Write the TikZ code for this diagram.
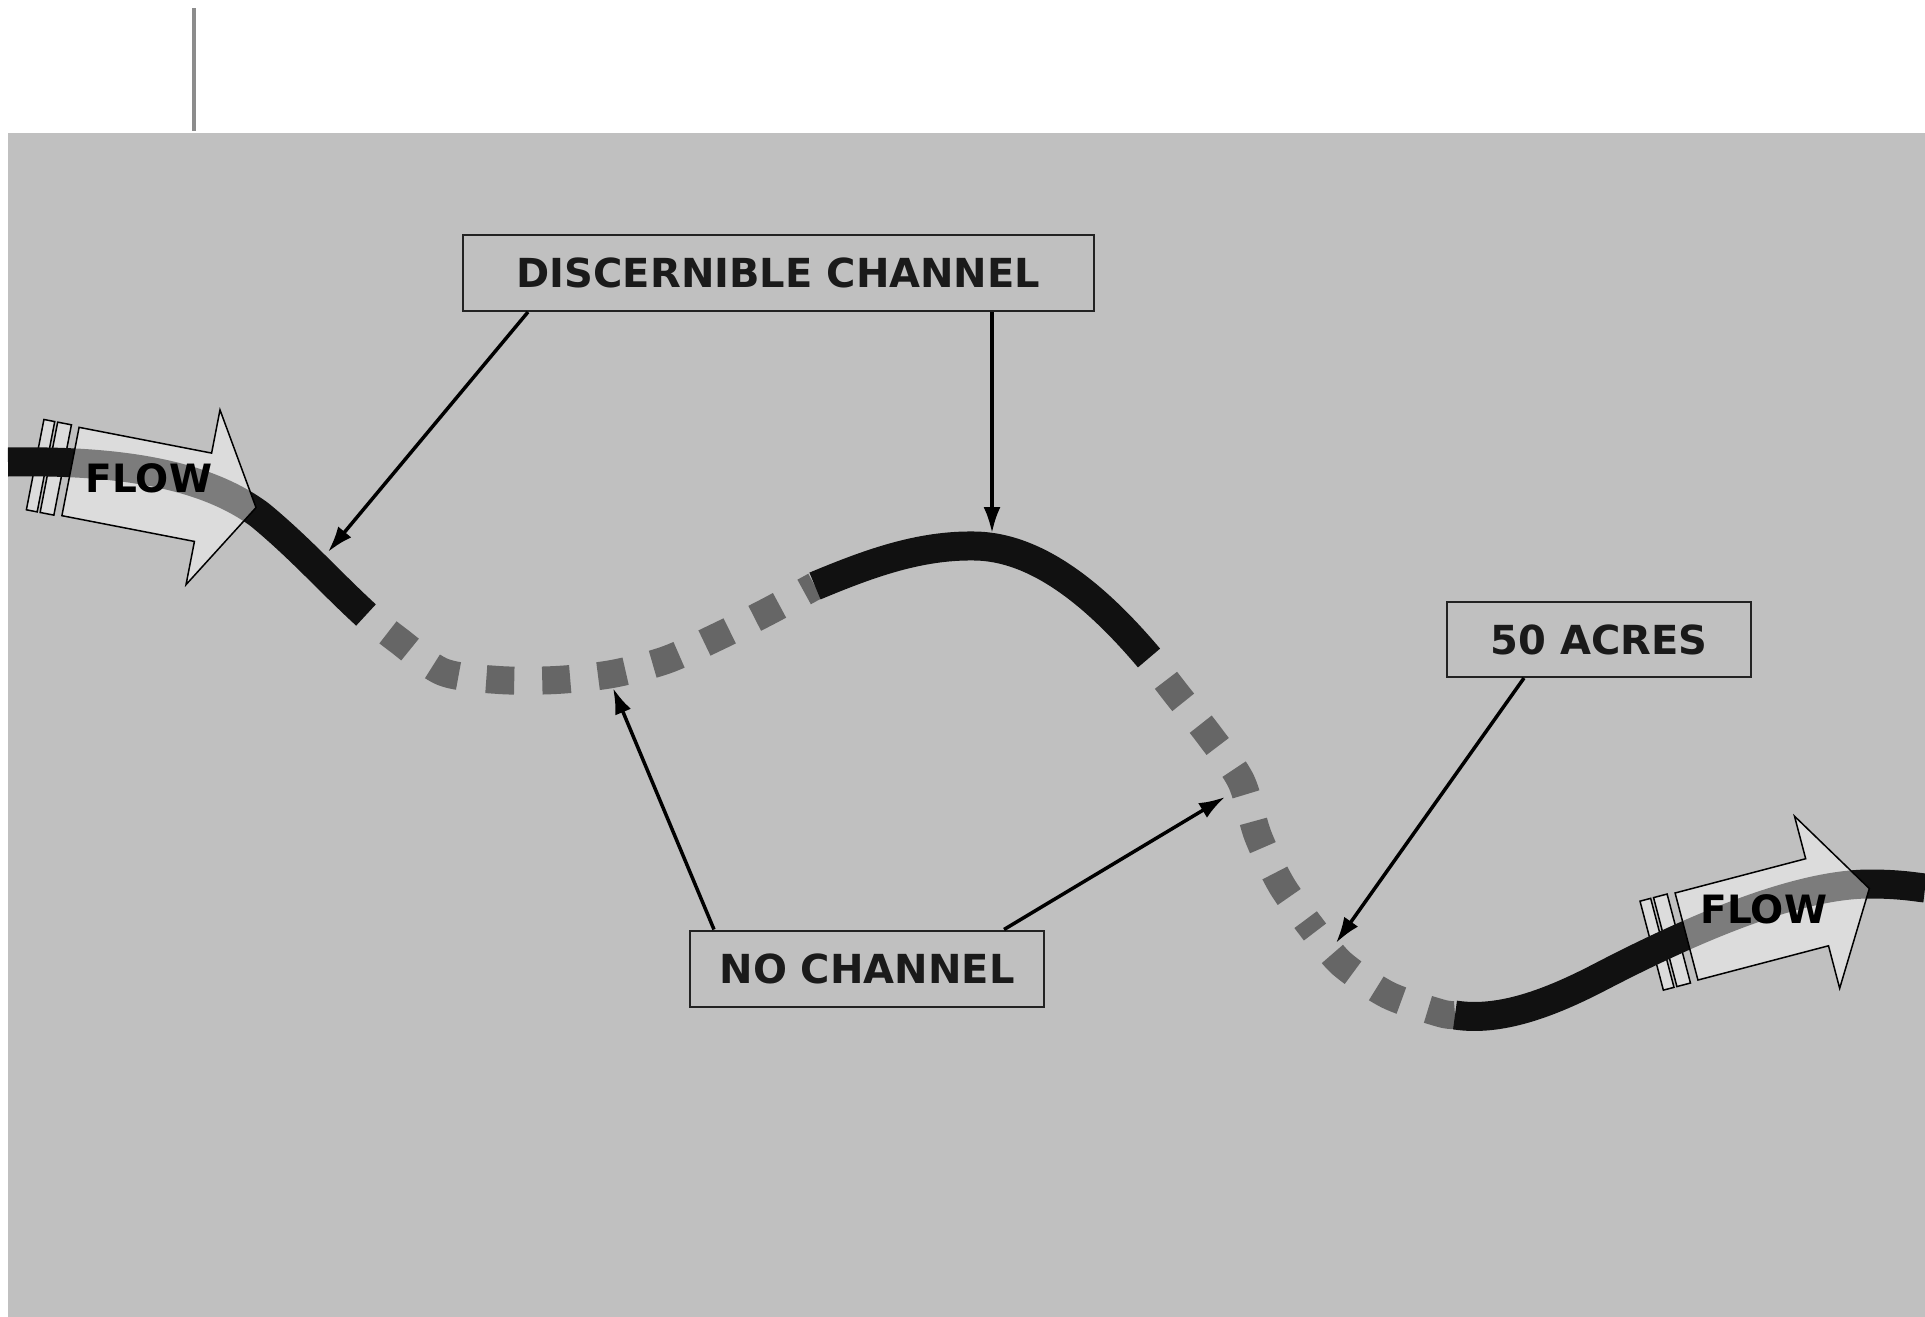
\documentclass[tikz,border=0pt]{standalone}
\usepackage{fontspec}
\setmainfont{DejaVu Sans}
\usetikzlibrary{arrows.meta}
\definecolor{bg}{HTML}{C0C0C0}
\definecolor{chan}{HTML}{111111}
\definecolor{dashgray}{HTML}{666666}
\definecolor{arrowfill}{HTML}{DCDCDC}
\definecolor{boxline}{HTML}{222222}
\definecolor{textc}{HTML}{1A1A1A}
\definecolor{vline}{HTML}{8C8C8C}
\begin{document}
\begin{tikzpicture}[x=1pt,y=-1pt,
  chanline/.style={line width=29pt, draw=chan, line cap=butt},
  gapline/.style={line width=28pt, draw=dashgray, line cap=butt, dash pattern=on 28pt off 28pt, dash phase=28pt},
  labelbox/.style={draw=boxline, line width=2pt, inner sep=0pt, font=\fontsize{40}{48}\selectfont\bfseries, text=textc},
  conn/.style={draw=black, line width=3.5pt, -{Latex[length=26pt,width=17pt]}},
  flowtext/.style={font=\fontsize{39}{44}\selectfont\bfseries, inner sep=0pt, text=black},
  flowbody/.style={fill=white, fill opacity=0.45, draw=black, draw opacity=1, line width=1.5pt, line join=miter},
  stripe/.style={fill=arrowfill, draw=black, line width=1.5pt}
]
\useasboundingbox (0,0) rectangle (1925,1317);
\fill[white] (0,0) rectangle (1925,1317);
\fill[bg] (8,133) rectangle (1925,1317);
\draw[line width=4pt, draw=vline] (194,8) -- (194,131);

% stripes of the flow arrows (under the channel)
\begin{scope}[shift={(70.5,471.5)}, rotate=-11]
  \draw[stripe] (-36,-46) rectangle (-25,46);
  \draw[stripe] (-22,-46) rectangle (-8,46);
\end{scope}
\begin{scope}[shift={(1686.5,936.5)}, rotate=14.7]
  \draw[stripe] (-36,-46) rectangle (-25,46);
  \draw[stripe] (-22,-46) rectangle (-8,46);
\end{scope}

% channel: gaps (no channel)
\draw[gapline] plot[smooth] coordinates {(366,615) (398,640) (443,672) (499,680) (556,680) (612,674) (666,660) (717,637) (767,612) (815,586)};
\draw[gapline] plot[smooth] coordinates {(1149,658) (1175,692) (1209,735) (1241,781) (1258,836) (1282,886) (1315,932)};
\draw[gapline] plot[smooth] coordinates {(1315,932) (1342,964) (1388,995) (1440,1013) (1455,1015)};

% channel: discernible
\draw[chanline] (8,462) .. controls (120,460) and (205,474) .. (260,515)
                        .. controls (300,548) and (330,582) .. (366,615);
\draw[chanline] (815,586) .. controls (870,563) and (920,545) .. (975,546)
                          .. controls (1040,547) and (1100,600) .. (1149,658);
\draw[chanline] (1455,1015) .. controls (1500,1022) and (1550,1003) .. (1600,977)
                            .. controls (1700,925) and (1800,884) .. (1870,884)
                            .. controls (1900,884) and (1915,887) .. (1925,888);

% flow arrow bodies
\begin{scope}[shift={(70.5,471.5)}, rotate=-11]
  \draw[flowbody] (0,-45) -- (135,-45) -- (135,-89) -- (189,0) -- (135,89) -- (135,45) -- (0,45) -- cycle;
\end{scope}
\begin{scope}[shift={(1686.5,936.5)}, rotate=14.7]
  \draw[flowbody] (0,-45) -- (135,-45) -- (135,-89) -- (189,0) -- (135,89) -- (135,45) -- (0,45) -- cycle;
\end{scope}
\node[flowtext] (fl) at (149,478) {FLOW};
\node[flowtext] (fr) at (1764,909) {FLOW};

% label boxes
\node[labelbox, minimum width=631pt, minimum height=76pt] (dc) at (778.5,273) {DISCERNIBLE CHANNEL};
\node[labelbox, minimum width=354pt, minimum height=76pt] (nc) at (867,968.5) {NO CHANNEL};
\node[labelbox, minimum width=304pt, minimum height=75pt] (ac) at (1599,639.5) {50 ACRES};

% connectors
\coordinate (t1) at (328,552);
\coordinate (t2) at (992,533);
\coordinate (t3) at (613,688);
\coordinate (t4) at (1225,797);
\coordinate (t5) at (1336,943);
\draw[conn] ([xshift=-250.5pt]dc.south) -- (t1);
\draw[conn] ([xshift=213.5pt]dc.south) -- (t2);
\draw[conn] ([xshift=-153pt]nc.north) -- (t3);
\draw[conn] ([xshift=137pt]nc.north) -- (t4);
\draw[conn] ([xshift=-75pt]ac.south) -- (t5);
\end{tikzpicture}
\end{document}
